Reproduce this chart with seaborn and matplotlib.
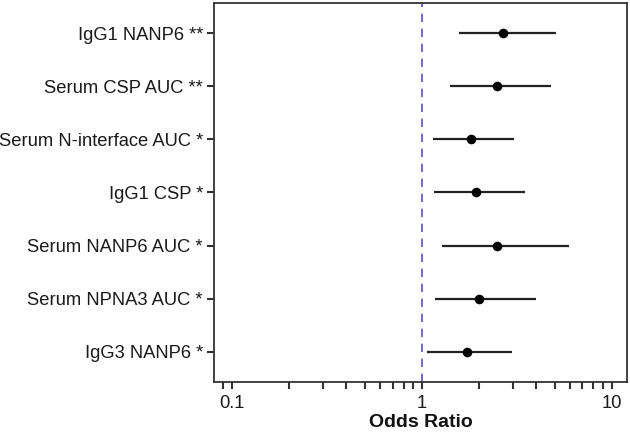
import matplotlib
matplotlib.use("Agg")
import matplotlib.pyplot as plt
import seaborn as sns
import pandas as pd
import numpy as np
from matplotlib.ticker import LogLocator, FixedFormatter, NullFormatter, FixedLocator

labels = ["IgG1 NANP6 **", "Serum CSP AUC **", "Serum N-interface AUC *", "IgG1 CSP *",
          "Serum NANP6 AUC *", "Serum NPNA3 AUC *", "IgG3 NANP6 *"]
odds = [2.68, 2.48, 1.82, 1.93, 2.48, 1.99, 1.72]
lower = [1.56, 1.41, 1.14, 1.16, 1.28, 1.17, 1.06]
upper = [5.07, 4.77, 3.05, 3.48, 5.94, 4.00, 2.99]
major_ticks = [0.1, 1, 10]
major_labels = ["0.1", "1", "10"]

df = pd.DataFrame({"label": labels, "odds": odds, "lower": lower, "upper": upper})

sns.set_theme(style="white")
plt.rcParams["font.family"] = ["Liberation Sans", "DejaVu Sans"]

fig = plt.figure(figsize=(6.3, 4.34), dpi=100)
ax = fig.add_axes([214/630, 52/434, 413/630, 379/434])

ax.hlines(y=df["label"], xmin=df["lower"], xmax=df["upper"], color="#222222", lw=1.6, zorder=2)
sns.scatterplot(data=df, x="odds", y="label", ax=ax, color="black", s=48,
                edgecolor="black", linewidth=0, zorder=3)
ax.axvline(1, color="#5B4FC8", lw=1.2, linestyle=(0, (5, 4)), zorder=1)

ax.set_xscale("log")
ax.set_xlim(10**-1.095, 10**1.08)
ax.set_ylim(len(labels) - 0.43, -0.57)
ax.xaxis.set_major_locator(FixedLocator(major_ticks))
ax.xaxis.set_major_formatter(FixedFormatter(major_labels))
ax.xaxis.set_minor_locator(LogLocator(base=10, subs=np.arange(2, 10)))
ax.xaxis.set_minor_formatter(NullFormatter())

for s in ax.spines.values():
    s.set_color("#333333")
    s.set_linewidth(1.3)

ax.tick_params(axis="both", which="both", direction="out", length=5, width=1.5,
               color="#333333", labelsize=13.2, labelcolor="#1a1a1a", pad=3,
               bottom=True, left=True)
ax.tick_params(axis="x", pad=4)
ax.set_xlabel("Odds Ratio", fontsize=14, fontweight="bold", labelpad=2, color="#111111")
ax.set_ylabel("")

fig.savefig("out.png", dpi=100)
